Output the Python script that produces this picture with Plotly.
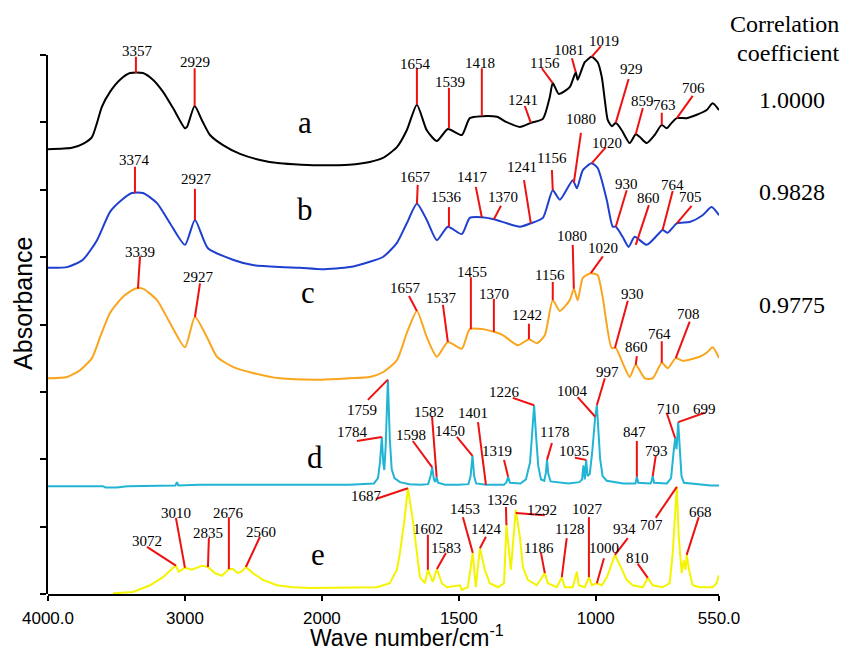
import plotly.graph_objects as go

# ---------------- data (wavenumber in cm-1, absorbance in stacked a.u.) ----------------
a_wn = [4000, 3825, 3745, 3679, 3642, 3606, 3547, 3474, 3401, 3307, 3234, 3160, 3087, 3000, 2985, 2929, 2876, 2817, 2722, 2598,
        2452, 2306, 2150, 2000, 1900, 1825, 1777, 1726, 1690, 1653, 1617, 1580, 1540, 1489, 1460, 1416, 1361, 1325, 1277, 1237,
        1193, 1168, 1157, 1135, 1095, 1073, 1066, 1040, 1015, 993, 978, 967, 956, 941, 927, 905, 876, 854, 839, 814,
        785, 759, 741, 723, 704, 668, 631, 595, 573, 550]
a_abs = [6.60, 6.62, 6.68, 6.78, 6.99, 7.23, 7.45, 7.63, 7.73, 7.73, 7.63, 7.45, 7.21, 6.91, 6.93, 7.24, 7.03, 6.81, 6.66, 6.53,
         6.44, 6.39, 6.37, 6.36, 6.37, 6.41, 6.47, 6.63, 6.88, 7.26, 6.88, 6.72, 6.90, 6.81, 7.06, 7.09, 7.08, 7.00, 6.93, 6.99,
         7.05, 7.37, 7.58, 7.42, 7.52, 7.74, 7.63, 7.89, 7.97, 7.89, 7.67, 7.33, 7.03, 6.94, 6.99, 6.88, 6.69, 6.82, 6.78, 6.69,
         6.81, 6.96, 6.91, 6.99, 7.06, 7.06, 7.11, 7.18, 7.28, 7.18]

b_wn = [4000, 3861, 3745, 3642, 3547, 3460, 3387, 3307, 3204, 3109, 3000, 2927, 2832, 2650, 2504, 2306, 2160, 2000, 1898, 1825,
        1777, 1726, 1690, 1653, 1617, 1580, 1540, 1489, 1460, 1416, 1372, 1325, 1277, 1237, 1193, 1157, 1131, 1084, 1069, 1047,
        1015, 993, 960, 938, 927, 902, 880, 858, 814, 774, 756, 737, 704, 657, 610, 577, 550]
b_abs = [4.84, 4.85, 4.96, 5.25, 5.67, 5.85, 5.95, 5.95, 5.80, 5.50, 5.18, 5.55, 5.13, 4.96, 4.88, 4.85, 4.84, 4.82, 4.85, 4.93,
         5.00, 5.21, 5.50, 5.79, 5.55, 5.25, 5.45, 5.34, 5.58, 5.59, 5.56, 5.50, 5.45, 5.50, 5.58, 5.99, 5.85, 6.14, 6.02, 6.29,
         6.39, 6.32, 5.85, 5.45, 5.45, 5.30, 5.15, 5.30, 5.18, 5.33, 5.40, 5.36, 5.50, 5.52, 5.62, 5.74, 5.62]

c_wn = [4000, 3861, 3766, 3679, 3620, 3547, 3452, 3365, 3307, 3204, 3109, 3000, 2927, 2839, 2766, 2650, 2504, 2306, 2000, 1900,
        1825, 1777, 1726, 1690, 1653, 1617, 1580, 1540, 1489, 1460, 1413, 1372, 1339, 1284, 1244, 1215, 1186, 1157, 1131, 1095,
        1080, 1066, 1047, 1018, 993, 975, 942, 927, 902, 876, 854, 821, 792, 759, 737, 708, 683, 621, 595, 573, 550]
c_abs = [3.20, 3.22, 3.32, 3.50, 3.81, 4.17, 4.41, 4.53, 4.53, 4.36, 4.02, 3.66, 4.11, 3.81, 3.52, 3.37, 3.28, 3.20, 3.18, 3.20,
         3.22, 3.29, 3.47, 3.87, 4.20, 3.81, 3.52, 3.74, 3.64, 3.93, 3.93, 3.89, 3.84, 3.69, 3.78, 3.72, 3.84, 4.36, 4.20, 4.36,
         4.53, 4.36, 4.69, 4.76, 4.73, 4.41, 3.65, 3.65, 3.43, 3.22, 3.40, 3.20, 3.20, 3.43, 3.35, 3.50, 3.46, 3.52, 3.58, 3.66,
         3.50]

d_wn = [4000, 3600, 3580, 3500, 3420, 3200, 3070, 3058, 3048, 2900, 2780, 2700, 2500, 2300, 2050, 2000, 1900, 1810, 1795, 1788,
        1781, 1776, 1772, 1767, 1759, 1752, 1745, 1735, 1715, 1680, 1640, 1612, 1603, 1597, 1591, 1586, 1581, 1576, 1550, 1500,
        1465, 1457, 1450, 1444, 1437, 1401, 1335, 1326, 1320, 1313, 1275, 1255, 1240, 1232, 1225, 1218, 1210, 1200, 1188, 1182,
        1178, 1173, 1165, 1100, 1060, 1050, 1045, 1040, 1035, 1030, 1022, 1013, 1006, 1002, 996, 990, 984, 975, 960, 900,
        855, 850, 845, 800, 796, 792, 787, 740, 725, 716, 710, 705, 699, 693, 687, 678, 620, 580, 550]
d_abs = [1.60, 1.60, 1.58, 1.58, 1.60, 1.61, 1.61, 1.66, 1.61, 1.62, 1.62, 1.61, 1.62, 1.61, 1.62, 1.61, 1.62, 1.64, 1.72, 1.95,
         2.33, 1.95, 1.84, 2.20, 3.18, 2.30, 1.85, 1.72, 1.66, 1.63, 1.62, 1.63, 1.75, 1.88, 1.70, 1.66, 1.74, 1.65, 1.62, 1.62,
         1.63, 1.75, 2.05, 1.75, 1.64, 1.62, 1.62, 1.66, 1.74, 1.65, 1.64, 1.70, 1.95, 2.40, 2.80, 2.35, 1.90, 1.70, 1.68, 1.80,
         1.99, 1.78, 1.67, 1.64, 1.66, 1.70, 1.91, 1.70, 1.99, 1.75, 1.78, 2.10, 2.45, 2.63, 2.80, 2.40, 2.00, 1.75, 1.68, 1.64,
         1.64, 1.74, 1.65, 1.64, 1.68, 1.75, 1.65, 1.64, 1.72, 2.10, 2.31, 2.15, 2.55, 2.15, 1.75, 1.65, 1.62, 1.61, 1.61]

e_wn = [3525, 3380, 3255, 3160, 3087, 3066, 3044, 3000, 2949, 2876, 2832, 2781, 2730, 2679, 2650, 2613, 2584, 2555, 2504, 2431,
        2328, 2211, 2087, 1996, 1898, 1799, 1752, 1726, 1715, 1700, 1686, 1668, 1653, 1642, 1624, 1613, 1595, 1580, 1562, 1544,
        1496, 1489, 1467, 1449, 1438, 1423, 1405, 1387, 1357, 1335, 1326, 1310, 1292, 1277, 1266, 1248, 1215, 1186, 1175, 1142,
        1124, 1113, 1084, 1069, 1062, 1040, 1025, 1014, 996, 978, 959, 945, 930, 912, 887, 865, 828, 810, 792, 756,
        730, 719, 704, 697, 686, 679, 672, 668, 657, 646, 621, 573, 559, 550]
e_abs = [0.01, 0.03, 0.13, 0.25, 0.39, 0.42, 0.33, 0.39, 0.36, 0.42, 0.40, 0.31, 0.27, 0.37, 0.37, 0.31, 0.34, 0.40, 0.31, 0.21,
         0.13, 0.10, 0.09, 0.09, 0.10, 0.10, 0.16, 0.36, 0.61, 1.05, 1.57, 1.10, 0.61, 0.25, 0.16, 0.36, 0.18, 0.37, 0.16, 0.10,
         0.13, 0.06, 0.10, 0.61, 0.10, 0.68, 0.36, 0.16, 0.10, 0.16, 1.02, 0.36, 1.25, 0.85, 0.40, 0.21, 0.13, 0.31, 0.16, 0.10,
         0.25, 0.10, 0.10, 0.33, 0.13, 0.10, 0.25, 0.13, 0.16, 0.13, 0.25, 0.40, 0.58, 0.43, 0.21, 0.13, 0.10, 0.24, 0.13, 0.10,
         0.16, 0.61, 1.59, 0.85, 0.31, 0.50, 0.36, 0.58, 0.31, 0.13, 0.10, 0.10, 0.16, 0.28]

series_names = ["a", "b", "c", "d", "e"]
correlation_values = ["1.0000", "0.9828", "0.9775"]

tick_wn = [4000, 3000, 2000, 1500, 1000, 550]
tick_text = ["4000.0", "3000", "2000", "1500", "1000", "550.0"]

# peak labels: (text, peak wn, peak abs, label-end wn, label-end abs, text wn, text abs)
peaks_a = [
    ("3357", 3358, 7.73, 3358, 7.97, 3350, 8.06),
    ("2929", 2929, 7.24, 2929, 7.80, 2929, 7.89),
    ("1654", 1653, 7.26, 1653, 7.80, 1660, 7.86),
    ("1539", 1536, 6.91, 1536, 7.51, 1533, 7.60),
    ("1418", 1416, 7.09, 1416, 7.80, 1423, 7.88),
    ("1241", 1237, 6.99, 1259, 7.24, 1266, 7.33),
    ("1156", 1157, 7.58, 1197, 7.80, 1186, 7.88),
    ("1081", 1073, 7.74, 1087, 7.95, 1098, 8.07),
    ("1019", 1015, 7.97, 981, 8.13, 970, 8.20),
    ("929", 927, 6.99, 880, 7.64, 869, 7.79),
    ("859", 854, 6.82, 828, 7.21, 828, 7.31),
    ("763", 759, 6.96, 759, 7.14, 748, 7.26),
    ("706", 704, 7.06, 646, 7.39, 642, 7.51),
]
peaks_b = [
    ("3374", 3365, 5.95, 3365, 6.34, 3365, 6.44),
    ("2927", 2927, 5.55, 2927, 6.01, 2912, 6.16),
    ("1657", 1653, 5.79, 1650, 6.07, 1657, 6.19),
    ("1536", 1536, 5.45, 1536, 5.74, 1544, 5.89),
    ("1417", 1416, 5.59, 1438, 6.04, 1449, 6.19),
    ("1370", 1372, 5.56, 1346, 5.76, 1339, 5.89),
    ("1241", 1237, 5.50, 1262, 6.14, 1270, 6.34),
    ("1156", 1157, 5.99, 1160, 6.29, 1160, 6.47),
    ("1080", 1080, 6.10, 1054, 6.84, 1054, 7.05),
    ("1020", 1015, 6.39, 963, 6.63, 959, 6.69),
    ("930", 927, 5.45, 887, 5.99, 887, 6.08),
    ("860", 854, 5.18, 806, 5.77, 806, 5.88),
    ("764", 756, 5.40, 719, 5.98, 719, 6.07),
    ("705", 704, 5.50, 650, 5.76, 653, 5.89),
]
peaks_c = [
    ("3339", 3343, 4.53, 3328, 5.01, 3328, 5.07),
    ("2927", 2927, 4.11, 2890, 4.61, 2898, 4.70),
    ("1657", 1653, 4.20, 1682, 4.42, 1693, 4.54),
    ("1537", 1540, 3.74, 1558, 4.29, 1562, 4.39),
    ("1455", 1456, 3.93, 1456, 4.70, 1452, 4.78),
    ("1370", 1372, 3.89, 1372, 4.38, 1372, 4.45),
    ("1242", 1244, 3.78, 1244, 4.01, 1252, 4.14),
    ("1156", 1157, 4.36, 1157, 4.63, 1168, 4.73),
    ("1080", 1080, 4.53, 1084, 5.18, 1087, 5.31),
    ("1020", 1018, 4.76, 974, 5.01, 974, 5.13),
    ("930", 930, 3.65, 883, 4.35, 865, 4.45),
    ("860", 854, 3.40, 850, 3.53, 850, 3.66),
    ("764", 759, 3.43, 759, 3.75, 766, 3.86),
    ("708", 708, 3.50, 657, 4.04, 661, 4.15),
]
peaks_d = [
    ("1759", 1759, 3.18, 1832, 2.88, 1854, 2.73),
    ("1784", 1781, 2.33, 1872, 2.27, 1887, 2.40),
    ("1598", 1597, 1.88, 1668, 2.27, 1675, 2.36),
    ("1582", 1581, 1.74, 1598, 2.64, 1609, 2.70),
    ("1450", 1450, 2.05, 1507, 2.33, 1533, 2.42),
    ("1401", 1401, 1.62, 1430, 2.55, 1449, 2.69),
    ("1319", 1320, 1.74, 1335, 1.99, 1361, 2.12),
    ("1226", 1225, 2.80, 1303, 2.91, 1332, 3.00),
    ("1178", 1178, 1.99, 1160, 2.24, 1149, 2.40),
    ("1035", 1035, 1.99, 1076, 2.02, 1080, 2.12),
    ("1004", 1002, 2.63, 1066, 2.92, 1084, 3.01),
    ("997", 996, 2.80, 967, 3.20, 956, 3.29),
    ("847", 850, 1.74, 850, 2.27, 858, 2.40),
    ("793", 792, 1.75, 781, 2.05, 777, 2.12),
    ("710", 710, 2.31, 741, 2.69, 734, 2.74),
    ("699", 699, 2.55, 602, 2.69, 602, 2.74),
]
peaks_e = [
    ("3072", 3066, 0.42, 3277, 0.70, 3277, 0.79),
    ("3010", 3000, 0.39, 3066, 1.13, 3066, 1.20),
    ("2835", 2832, 0.40, 2825, 0.83, 2832, 0.91),
    ("2676", 2679, 0.37, 2679, 1.14, 2679, 1.20),
    ("2560", 2555, 0.40, 2452, 0.85, 2445, 0.92),
    ("1687", 1686, 1.57, 1803, 1.41, 1836, 1.45),
    ("1602", 1613, 0.36, 1613, 0.88, 1613, 0.96),
    ("1583", 1580, 0.37, 1547, 0.61, 1547, 0.68),
    ("1453", 1449, 0.61, 1485, 1.14, 1478, 1.26),
    ("1424", 1423, 0.68, 1401, 0.85, 1398, 0.96),
    ("1326", 1326, 1.02, 1328, 1.29, 1339, 1.39),
    ("1292", 1292, 1.20, 1186, 1.17, 1197, 1.25),
    ("1186", 1186, 0.31, 1200, 0.61, 1208, 0.68),
    ("1128", 1124, 0.25, 1106, 0.83, 1095, 0.96),
    ("1027", 1025, 0.25, 1025, 1.14, 1029, 1.26),
    ("1000", 996, 0.16, 970, 0.53, 970, 0.68),
    ("934", 930, 0.58, 883, 0.83, 894, 0.96),
    ("810", 810, 0.24, 847, 0.45, 847, 0.53),
    ("707", 704, 1.59, 781, 1.13, 795, 1.02),
    ("668", 668, 0.58, 624, 1.14, 617, 1.22),
]

# letter tags: (text, wn, abs)
tags = [("a", 2124, 7.00), ("b", 2124, 5.70), ("c", 2102, 4.48), ("d", 2051, 2.03), ("e", 2029, 0.58)]

# ---------------- styling ----------------
COLORS = ["#000000", "#1f3fcf", "#f9a61e", "#22b4d4", "#f4f400"]
RED = "#ee1111"
SERIF = "Liberation Serif, Times New Roman, serif"
SANS = "Liberation Sans, Arial, sans-serif"


def tx(w):
    """Instrument axis: half scale above 2000 cm-1."""
    return w if w <= 2000 else 2000 + (w - 2000) / 2.0


fig = go.Figure()
spectra = [(a_wn, a_abs, True), (b_wn, b_abs, True), (c_wn, c_abs, True), (d_wn, d_abs, False), (e_wn, e_abs, False)]
for (wn, ab, smooth), col, nm in zip(spectra, COLORS, series_names):
    line = dict(color=col, width=2)
    if smooth:
        line.update(shape="spline", smoothing=0.6)
    fig.add_trace(go.Scatter(x=[tx(w) for w in wn], y=ab, mode="lines", line=line, name=nm,
                             showlegend=False, hoverinfo="skip"))

# carrier trace for the visible absorbance axis
fig.add_trace(go.Scatter(x=[], y=[], xaxis="x", yaxis="y2", mode="lines", showlegend=False, hoverinfo="skip"))

shapes = []
annotations = []
for plist in [peaks_a, peaks_b, peaks_c, peaks_d, peaks_e]:
    for (t, w0, v0, w1, v1, wl, vl) in plist:
        shapes.append(dict(type="line", xref="x", yref="y", x0=tx(w0), y0=v0, x1=tx(w1), y1=v1,
                           line=dict(color=RED, width=2), layer="above"))
        annotations.append(dict(xref="x", yref="y", x=tx(wl), y=vl, text=t, showarrow=False,
                                xanchor="center", yanchor="middle",
                                font=dict(family=SERIF, size=15, color="black")))

for (t, w, v) in tags:
    annotations.append(dict(xref="x", yref="y", x=tx(w), y=v, text=t, showarrow=False,
                            xanchor="center", yanchor="middle",
                            font=dict(family=SERIF, size=31, color="black")))


def paper_text(text, x, y, size, family, angle=0):
    annotations.append(dict(xref="paper", yref="paper", x=x, y=y, text=text, showarrow=False,
                            xanchor="center", yanchor="middle", textangle=angle,
                            font=dict(family=family, size=size, color="black")))


paper_text("Correlation", 1.098, 0.9596, 24, SERIF)
paper_text("coefficient", 1.103, 0.9108, 24, SERIF)
for val, yp in zip(correlation_values, [0.8316, 0.6768, 0.4865]):
    paper_text(val, 1.109, yp, 24, SERIF)

# axis titles
paper_text("Wave number/cm<sup>-1</sup>", 0.535, -0.0712, 23, SANS)
paper_text("Absorbance", -0.0373, 0.49, 25, SANS, angle=-90)

fig.update_layout(
    width=845, height=653,
    margin=dict(l=48, r=126, t=0, b=59),
    paper_bgcolor="white", plot_bgcolor="rgba(0,0,0,0)",
    shapes=shapes, annotations=annotations,
    xaxis=dict(range=[tx(4000), tx(550)], tickvals=[tx(w) for w in tick_wn], ticktext=tick_text,
               ticks="outside", ticklen=5, tickwidth=2, tickcolor="black", ticklabelstandoff=3,
               showline=True, linecolor="black", linewidth=2, showgrid=False, zeroline=False,
               automargin=False,
               tickfont=dict(family=SANS, size=17, color="black"), anchor="y"),
    yaxis=dict(range=[0, 8.813], domain=[0, 1], visible=False, fixedrange=True, automargin=False),
    yaxis2=dict(range=[0, 8], domain=[0, 0.9074], anchor="x", showline=True, linecolor="black", linewidth=2,
                ticks="outside", ticklen=6, tickwidth=2, tickcolor="black", tickvals=list(range(9)),
                showticklabels=False, showgrid=False, zeroline=False, automargin=False),
)

# remove the browser's default 8px page margin so the figure fills the window exactly; hide the mode bar
fig.write_html("out.html", config={"displayModeBar": False},
               post_script="document.body.style.margin='0';")
